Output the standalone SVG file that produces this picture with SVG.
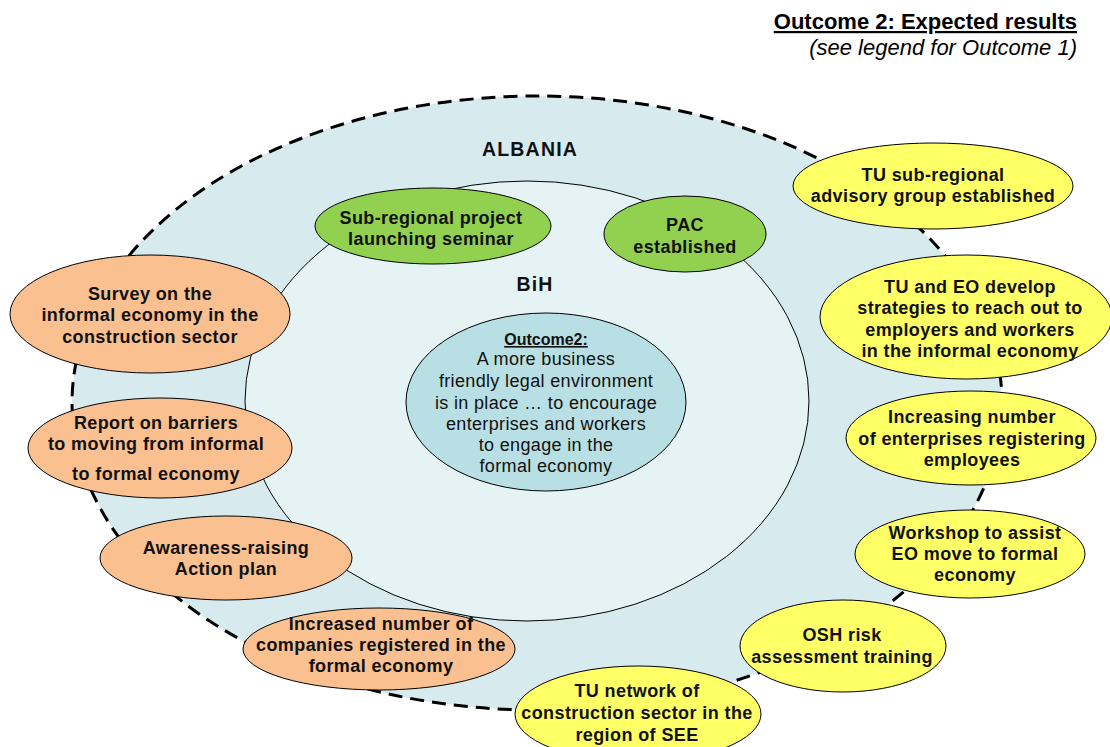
<svg xmlns="http://www.w3.org/2000/svg" width="1110" height="747" viewBox="0 0 1110 747">
  <style>
    .node { stroke: #000; stroke-width: 1; }
    .orange { fill: #fac090; }
    .yellow { fill: #ffff66; }
    .green { fill: #92d050; }
    .lbl { font-family: "Liberation Sans", Arial, sans-serif; font-weight: bold; font-size: 18px; letter-spacing: 0.4px; fill: #111; text-anchor: middle; }
    .body { font-family: "Liberation Sans", Arial, sans-serif; font-size: 18px; letter-spacing: 0.35px; fill: #111; text-anchor: middle; }
    .region { font-family: "Liberation Sans", Arial, sans-serif; font-weight: bold; font-size: 19.5px; letter-spacing: 1.2px; fill: #111; text-anchor: middle; }
  </style>
  <rect width="1110" height="747" fill="#fff"/>

  <!-- Heading -->
  <g id="heading" font-family="Liberation Sans, Arial, sans-serif" text-anchor="end">
    <text x="1077" y="29" font-size="22px" font-weight="bold" fill="#000" text-decoration="underline">Outcome 2: Expected results</text>
    <text x="1077" y="55" font-size="22px" font-style="italic" fill="#000">(see legend for Outcome 1)</text>
  </g>

  <!-- Regions: ALBANIA (outer, dashed) and BiH (inner) -->
  <g id="albania">
    <ellipse cx="537" cy="403" rx="465" ry="307" fill="#d7eaee" stroke="#000" stroke-width="3" stroke-dasharray="14 8"/>
    <text class="region" x="530" y="156">ALBANIA</text>
  </g>
  <g id="bih">
    <ellipse cx="527" cy="401" rx="282" ry="220" fill="#e5f3f5" stroke="#000" stroke-width="1"/>
    <text class="region" x="535" y="291" font-size="18.5px" letter-spacing="1.5px">BiH</text>
  </g>

  <!-- Central outcome -->
  <g id="outcome2">
    <ellipse cx="546" cy="402" rx="140" ry="89" fill="#b8dfe3" stroke="#000" stroke-width="1"/>
    <text x="546" y="345" font-family="Liberation Sans, Arial, sans-serif" font-size="16px" font-weight="bold" fill="#111" text-anchor="middle" text-decoration="underline">Outcome2:</text>
    <text class="body" x="546" y="365">A more business</text>
    <text class="body" x="546" y="387">friendly legal environment</text>
    <text class="body" x="546" y="409">is in place … to encourage</text>
    <text class="body" x="546" y="430">enterprises and workers</text>
    <text class="body" x="546" y="451">to engage in the</text>
    <text class="body" x="546" y="472">formal economy</text>
  </g>

  <g id="connectors"/>

  <!-- Green nodes -->
  <g id="launch-seminar">
    <ellipse class="node green" cx="433" cy="226" rx="118" ry="38"/>
    <text class="lbl" x="431" y="224">Sub-regional project</text>
    <text class="lbl" x="431" y="245">launching seminar</text>
  </g>
  <g id="pac">
    <ellipse class="node green" cx="685" cy="234" rx="81" ry="38"/>
    <text class="lbl" x="685" y="231">PAC</text>
    <text class="lbl" x="685" y="253">established</text>
  </g>

  <!-- Orange nodes -->
  <g id="survey">
    <ellipse class="node orange" cx="150" cy="314" rx="140" ry="59"/>
    <text class="lbl" x="150" y="300">Survey on the</text>
    <text class="lbl" x="150" y="321">informal economy in the</text>
    <text class="lbl" x="150" y="343">construction sector</text>
  </g>
  <g id="barriers-report">
    <ellipse class="node orange" cx="160" cy="448" rx="132" ry="50"/>
    <text class="lbl" x="156" y="429">Report on barriers</text>
    <text class="lbl" x="156" y="450">to moving from informal</text>
    <text class="lbl" x="156" y="480">to formal economy</text>
  </g>
  <g id="awareness">
    <ellipse class="node orange" cx="226" cy="558" rx="126" ry="42"/>
    <text class="lbl" x="226" y="554">Awareness-raising</text>
    <text class="lbl" x="226" y="575">Action plan</text>
  </g>
  <g id="companies-registered">
    <ellipse class="node orange" cx="379" cy="649" rx="136" ry="41"/>
    <text class="lbl" x="381" y="630">Increased number of</text>
    <text class="lbl" x="381" y="651">companies registered in the</text>
    <text class="lbl" x="381" y="672">formal economy</text>
  </g>

  <!-- Yellow nodes -->
  <g id="tu-advisory">
    <ellipse class="node yellow" cx="933" cy="186" rx="140" ry="43"/>
    <text class="lbl" x="933" y="181">TU sub-regional</text>
    <text class="lbl" x="933" y="202">advisory group established</text>
  </g>
  <g id="tu-eo-strategies">
    <ellipse class="node yellow" cx="966" cy="317" rx="146" ry="62"/>
    <text class="lbl" x="970" y="293">TU and EO develop</text>
    <text class="lbl" x="970" y="314">strategies to reach out to</text>
    <text class="lbl" x="970" y="336">employers and workers</text>
    <text class="lbl" x="970" y="357">in the informal economy</text>
  </g>
  <g id="enterprises-registering">
    <ellipse class="node yellow" cx="971" cy="438" rx="125" ry="47"/>
    <text class="lbl" x="972" y="423">Increasing number</text>
    <text class="lbl" x="972" y="445">of enterprises registering</text>
    <text class="lbl" x="972" y="466">employees</text>
  </g>
  <g id="eo-workshop">
    <ellipse class="node yellow" cx="970" cy="554" rx="115" ry="44"/>
    <text class="lbl" x="975" y="539">Workshop to assist</text>
    <text class="lbl" x="975" y="560">EO move to formal</text>
    <text class="lbl" x="975" y="581">economy</text>
  </g>
  <g id="osh-training">
    <ellipse class="node yellow" cx="843" cy="646" rx="103" ry="46"/>
    <text class="lbl" x="842" y="641">OSH risk</text>
    <text class="lbl" x="842" y="663">assessment training</text>
  </g>
  <g id="tu-network">
    <ellipse class="node yellow" cx="638" cy="714" rx="123" ry="48"/>
    <text class="lbl" x="637" y="697">TU network of</text>
    <text class="lbl" x="637" y="719">construction sector in the</text>
    <text class="lbl" x="637" y="741">region of SEE</text>
  </g>
</svg>
